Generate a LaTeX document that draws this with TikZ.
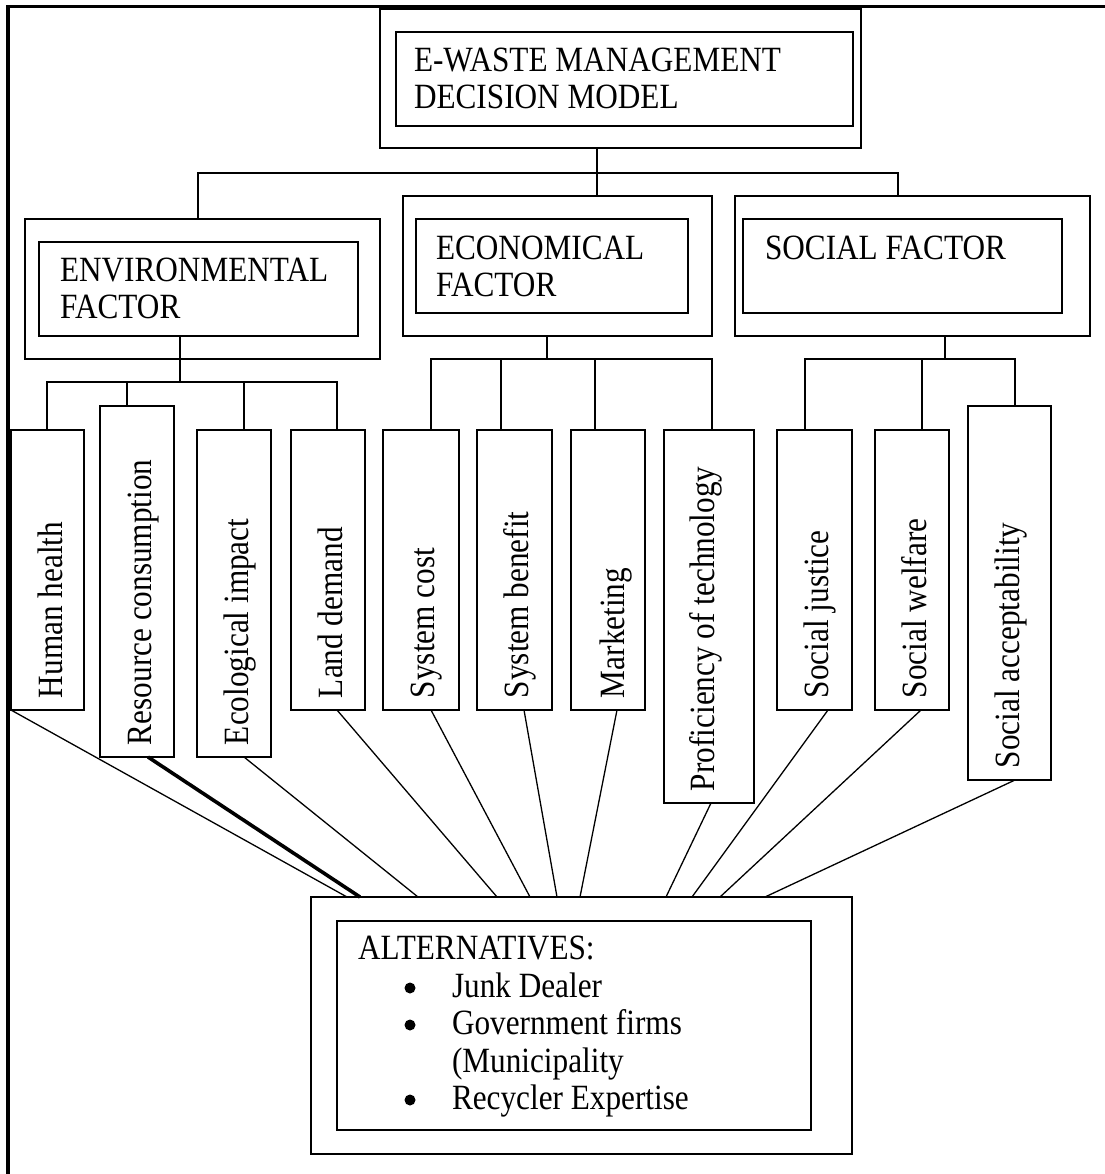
\documentclass[tikz,border=0pt]{standalone}
\usepackage{fontspec}
\setmainfont{Liberation Serif}[FakeStretch=0.88]
\usetikzlibrary{calc}
% \mkbox{name}{x1}{y1}{x2}{y2}{style}: empty framed rectangle by its corners
\newcommand\mkbox[6]{\node[#6, anchor=north west, minimum width={#4-#2}, minimum height={#5-#3}] (#1) at (#2,#3) {};}
\begin{document}
\begin{tikzpicture}[x=1pt, y=-1pt,
  every node/.style={inner sep=0pt, outer sep=0pt},
  boxline/.style={draw, line width=1.6pt},
  conn/.style={line width=1.3pt},
  heavy/.style={line width=3.6pt},
  lbl/.style={font=\fontsize{35.5}{37}\selectfont, anchor=base west},
  vlbl/.style={lbl, rotate=90}]

\useasboundingbox (0,0) rectangle (1104,1174);
\fill[white] (0,0) rectangle (1104,1174);

% page frame (top and left rules)
\draw[line width=3.4pt] (8,1176) -- (8,6.7) -- (1106,6.7);

% goal
\mkbox{topO}{380}{9}{861}{148}{boxline}
\mkbox{topI}{396}{32}{853}{126}{boxline}
\node[lbl] (topT1) at (414,72) {E-WASTE MANAGEMENT};
\node[lbl] (topT2) at (414,109) {DECISION MODEL};

% criteria
\mkbox{envO}{25}{219}{380}{359}{boxline}
\mkbox{envI}{39}{242}{358}{336}{boxline}
\node[lbl] (envT1) at (60,281) {ENVIRONMENTAL};
\node[lbl] (envT2) at (60,318) {FACTOR};

\mkbox{ecoO}{403}{196}{712}{336}{boxline}
\mkbox{ecoI}{416}{219}{688}{313}{boxline}
\node[lbl] (ecoT1) at (436,259) {ECONOMICAL};
\node[lbl] (ecoT2) at (436,296) {FACTOR};

\mkbox{socO}{735}{196}{1090}{336}{boxline}
\mkbox{socI}{743}{219}{1062}{313}{boxline}
\node[lbl] (socT) at (765,259) {SOCIAL FACTOR};

% goal -> criteria
\coordinate (jA) at (597,173);
\coordinate (jAL) at (198,173);
\coordinate (jAR) at (898,173);
\draw[conn] (topO.south -| jA) -- (jA) -- (jA |- ecoO.north);
\draw[conn] (jAL |- envO.north) -- (jAL) -- (jAR) -- (jAR |- socO.north);

% sub-criteria
\mkbox{hh}{11}{430}{84}{710}{boxline}
\mkbox{rc}{100}{406}{174}{757}{boxline}
\mkbox{ei}{197}{430}{271}{757}{boxline}
\mkbox{ld}{291}{430}{365}{710}{boxline}
\mkbox{sc}{383}{430}{459}{710}{boxline}
\mkbox{sb}{477}{430}{552}{710}{boxline}
\mkbox{mk}{571}{430}{645}{710}{boxline}
\mkbox{pt}{664}{430}{754}{803}{boxline}
\mkbox{sj}{777}{430}{852}{710}{boxline}
\mkbox{sw}{875}{430}{949}{710}{boxline}
\mkbox{sa}{968}{406}{1051}{780}{boxline}

\node[vlbl] (hhT) at (62,698) {Human health};
\node[vlbl] (rcT) at (151,745) {Resource consumption};
\node[vlbl] (eiT) at (248,745) {Ecological impact};
\node[vlbl] (ldT) at (342,698) {Land demand};
\node[vlbl] (scT) at (434,698) {System cost};
\node[vlbl] (sbT) at (528,698) {System benefit};
\node[vlbl] (mkT) at (624,698) {Marketing};
\node[vlbl] (ptT) at (714,791) {Proficiency of technology};
\node[vlbl] (sjT) at (828,698) {Social justice};
\node[vlbl] (swT) at (926,698) {Social welfare};
\node[vlbl] (saT) at (1019,768) {Social acceptability};

% environmental branch
\coordinate (jE) at (180,382);
\coordinate (dhh) at (47,382);
\coordinate (drc) at (127,382);
\coordinate (dei) at (244,382);
\coordinate (dld) at (337,382);
\draw[conn] (envI.south -| jE) -- (jE);
\draw[conn] (dhh |- hh.north) -- (dhh) -- (dld) -- (dld |- ld.north);
\draw[conn] (drc) -- (drc |- rc.north);
\draw[conn] (dei) -- (dei |- ei.north);

% economical branch
\coordinate (jC) at (547,359);
\coordinate (dsc) at (431,359);
\coordinate (dsb) at (501,359);
\coordinate (dmk) at (595,359);
\coordinate (dpt) at (712,359);
\draw[conn] (ecoO.south -| jC) -- (jC);
\draw[conn] (dsc |- sc.north) -- (dsc) -- (dpt) -- (dpt |- pt.north);
\draw[conn] (dsb) -- (dsb |- sb.north);
\draw[conn] (dmk) -- (dmk |- mk.north);

% social branch
\coordinate (jS) at (945,359);
\coordinate (dsj) at (805,359);
\coordinate (dsw) at (922,359);
\coordinate (dsa) at (1015,359);
\draw[conn] (socO.south -| jS) -- (jS);
\draw[conn] (dsj |- sj.north) -- (dsj) -- (dsa) -- (dsa |- sa.north);
\draw[conn] (dsw) -- (dsw |- sw.north);

% alternatives
\mkbox{altO}{311}{897}{852}{1154}{boxline}
\mkbox{altI}{337}{921}{811}{1130}{boxline}
\node[lbl] (altT) at (358,959) {ALTERNATIVES:};
\fill (410,988) circle (5.5);
\fill (410,1025) circle (5.5);
\fill (410,1100) circle (5.5);
\node[lbl] (alt1) at (452,997) {Junk Dealer};
\node[lbl] (alt2) at (452,1034) {Government firms};
\node[lbl] (alt2b) at (452,1072) {(Municipality};
\node[lbl] (alt3) at (452,1109) {Recycler Expertise};

% sub-criteria -> alternatives
\draw[conn] (hh.south west) -- ($(altO.north west)+(36,0)$);
\draw[heavy] ($(rc.south west)+(48,0)$) -- ($(altO.north west)+(49,0)$);
\draw[conn] ($(ei.south west)+(47,0)$) -- ($(altO.north west)+(107,0)$);
\draw[conn] ($(ld.south west)+(46,0)$) -- ($(altO.north west)+(186,0)$);
\draw[conn] ($(sc.south west)+(48,0)$) -- ($(altO.north west)+(219,0)$);
\draw[conn] ($(sb.south west)+(47,0)$) -- ($(altO.north west)+(246,0)$);
\draw[conn] ($(mk.south west)+(46,0)$) -- ($(altO.north west)+(269,0)$);
\draw[conn] ($(pt.south west)+(47,0)$) -- ($(altO.north west)+(355,0)$);
\draw[conn] ($(sj.south west)+(51,0)$) -- ($(altO.north west)+(381,0)$);
\draw[conn] ($(sw.south west)+(46,0)$) -- ($(altO.north west)+(409,0)$);
\draw[conn] ($(sa.south west)+(47,0)$) -- ($(altO.north west)+(454,0)$);
\end{tikzpicture}
\end{document}
